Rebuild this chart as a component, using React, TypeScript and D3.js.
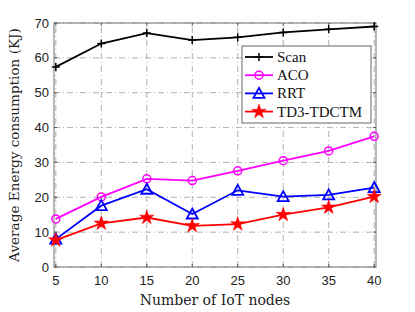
import React, { useRef, useEffect } from 'react';
import * as d3 from 'd3';

const nodes = [5, 10, 15, 20, 25, 30, 35, 40];
const scan = [57.4, 64.1, 67.1, 65.1, 65.9, 67.3, 68.2, 69.0];
const aco = [13.8, 20.1, 25.3, 24.8, 27.6, 30.5, 33.3, 37.5];
const rrt = [8.0, 17.6, 22.3, 15.2, 22.0, 20.2, 20.7, 22.8];
const td3 = [7.7, 12.5, 14.2, 11.8, 12.3, 15.0, 17.1, 20.2];
const yTicks = [0, 10, 20, 30, 40, 50, 60, 70];

const series = [
  { name: 'Scan', values: scan, color: '#000000', marker: 'plus' },
  { name: 'ACO', values: aco, color: '#ff00ff', marker: 'circle' },
  { name: 'RRT', values: rrt, color: '#0000ff', marker: 'triangle' },
  { name: 'TD3-TDCTM', values: td3, color: '#ff0000', marker: 'star' },
];

function drawMarker(g, type, color) {
  if (type === 'plus') {
    g.append('path').attr('d', 'M-4,0H4M0,-4V4').attr('stroke', color).attr('stroke-width', 1.5);
  } else if (type === 'circle') {
    g.append('circle').attr('r', 4).attr('fill', 'none').attr('stroke', color).attr('stroke-width', 1.5);
  } else if (type === 'triangle') {
    g.append('path').attr('d', 'M0,-5.5L5.5,4.5H-5.5Z').attr('fill', 'none').attr('stroke', color).attr('stroke-width', 1.8);
  } else {
    g.append('path').attr('d', d3.symbol(d3.symbolStar, 65)()).attr('fill', color).attr('stroke', color).attr('stroke-width', 0.5);
  }
}

function App() {
  const svgRef = useRef();

  useEffect(() => {
    const svg = d3.select(svgRef.current);
    svg.selectAll('*').remove();

    const width = 415;
    const height = 312;
    const margin = { top: 23, right: 39, bottom: 45, left: 54 };

    const x = d3.scaleLinear()
      .domain([4.8, 40.2])
      .range([margin.left, width - margin.right]);
    const y = d3.scaleLinear()
      .domain([0, 70])
      .range([height - margin.bottom, margin.top]);

    const grid = svg.append('g');
    nodes.forEach(n => {
      grid.append('line')
        .attr('x1', x(n)).attr('x2', x(n))
        .attr('y1', y(0)).attr('y2', y(70))
        .attr('stroke', '#b0b0b0').attr('stroke-width', 1)
        .attr('stroke-dasharray', '6,3,1,3');
    });
    yTicks.forEach(t => {
      grid.append('line')
        .attr('x1', x(4.8)).attr('x2', x(40.2))
        .attr('y1', y(t)).attr('y2', y(t))
        .attr('stroke', '#b0b0b0').attr('stroke-width', 1)
        .attr('stroke-dasharray', '6,3,1,3');
    });

    // box
    svg.append('rect')
      .attr('x', x(4.8)).attr('y', y(70))
      .attr('width', x(40.2) - x(4.8)).attr('height', y(0) - y(70))
      .attr('fill', 'none').attr('stroke', '#888').attr('stroke-width', 1.2);

    // ticks inside
    const ticks = svg.append('g').attr('stroke', '#555').attr('stroke-width', 1);
    nodes.forEach(n => {
      ticks.append('line').attr('x1', x(n)).attr('x2', x(n)).attr('y1', y(0)).attr('y2', y(0) - 3);
      ticks.append('line').attr('x1', x(n)).attr('x2', x(n)).attr('y1', y(70)).attr('y2', y(70) + 3);
    });
    yTicks.forEach(t => {
      ticks.append('line').attr('x1', x(4.8)).attr('x2', x(4.8) + 3).attr('y1', y(t)).attr('y2', y(t));
      ticks.append('line').attr('x1', x(40.2)).attr('x2', x(40.2) - 3).attr('y1', y(t)).attr('y2', y(t));
    });

    svg.append('g')
      .selectAll('text')
      .data(nodes)
      .join('text')
      .attr('x', d => x(d))
      .attr('y', y(0) + 18)
      .attr('text-anchor', 'middle')
      .attr('font-family', 'Liberation Sans, Arial, sans-serif')
      .attr('font-size', 13)
      .attr('fill', '#222')
      .text(d => d);

    svg.append('g')
      .selectAll('text')
      .data(yTicks)
      .join('text')
      .attr('x', x(4.8) - 5)
      .attr('y', d => y(d) + 4.5)
      .attr('text-anchor', 'end')
      .attr('font-family', 'Liberation Sans, Arial, sans-serif')
      .attr('font-size', 13)
      .attr('fill', '#222')
      .text(d => d);

    svg.append('text')
      .attr('x', (x(4.8) + x(40.2)) / 2)
      .attr('y', height - 7)
      .attr('text-anchor', 'middle')
      .attr('font-family', 'DejaVu Serif, Liberation Serif, serif')
      .attr('font-size', 14)
      .attr('fill', '#222')
      .text('Number of IoT nodes');

    svg.append('text')
      .attr('transform', `translate(19, ${(y(0) + y(70)) / 2}) rotate(-90)`)
      .attr('text-anchor', 'middle')
      .attr('font-family', 'DejaVu Serif, Liberation Serif, serif')
      .attr('font-size', 13.6)
      .attr('fill', '#222')
      .text('Average Energy consumption (KJ)');

    const line = d3.line().x((d, i) => x(nodes[i])).y(d => y(d));

    series.forEach(s => {
      svg.append('path')
        .attr('d', line(s.values))
        .attr('fill', 'none')
        .attr('stroke', s.color)
        .attr('stroke-width', 1.8);
      s.values.forEach((v, i) => {
        const g = svg.append('g').attr('transform', `translate(${x(nodes[i])},${y(v)})`);
        drawMarker(g, s.marker, s.color);
      });
    });

    // legend
    const lg = svg.append('g').attr('transform', 'translate(242,46)');
    lg.append('rect')
      .attr('width', 129).attr('height', 77)
      .attr('fill', '#fff').attr('stroke', '#666').attr('stroke-width', 1);
    series.forEach((s, i) => {
      const row = lg.append('g').attr('transform', `translate(0, ${11 + i * 18.2})`);
      row.append('line')
        .attr('x1', 3).attr('x2', 31)
        .attr('stroke', s.color).attr('stroke-width', 1.8);
      const m = row.append('g').attr('transform', 'translate(17,0)');
      drawMarker(m, s.marker, s.color);
      row.append('text')
        .attr('x', 35).attr('y', 5)
        .attr('font-family', 'Liberation Serif, Times New Roman, serif')
        .attr('font-size', 15)
        .attr('fill', '#111')
        .text(s.name);
    });
  }, []);

  return <svg ref={svgRef} width={415} height={312} style={{ position: 'absolute', left: 0, top: 0 }}></svg>;
}

export default App;
